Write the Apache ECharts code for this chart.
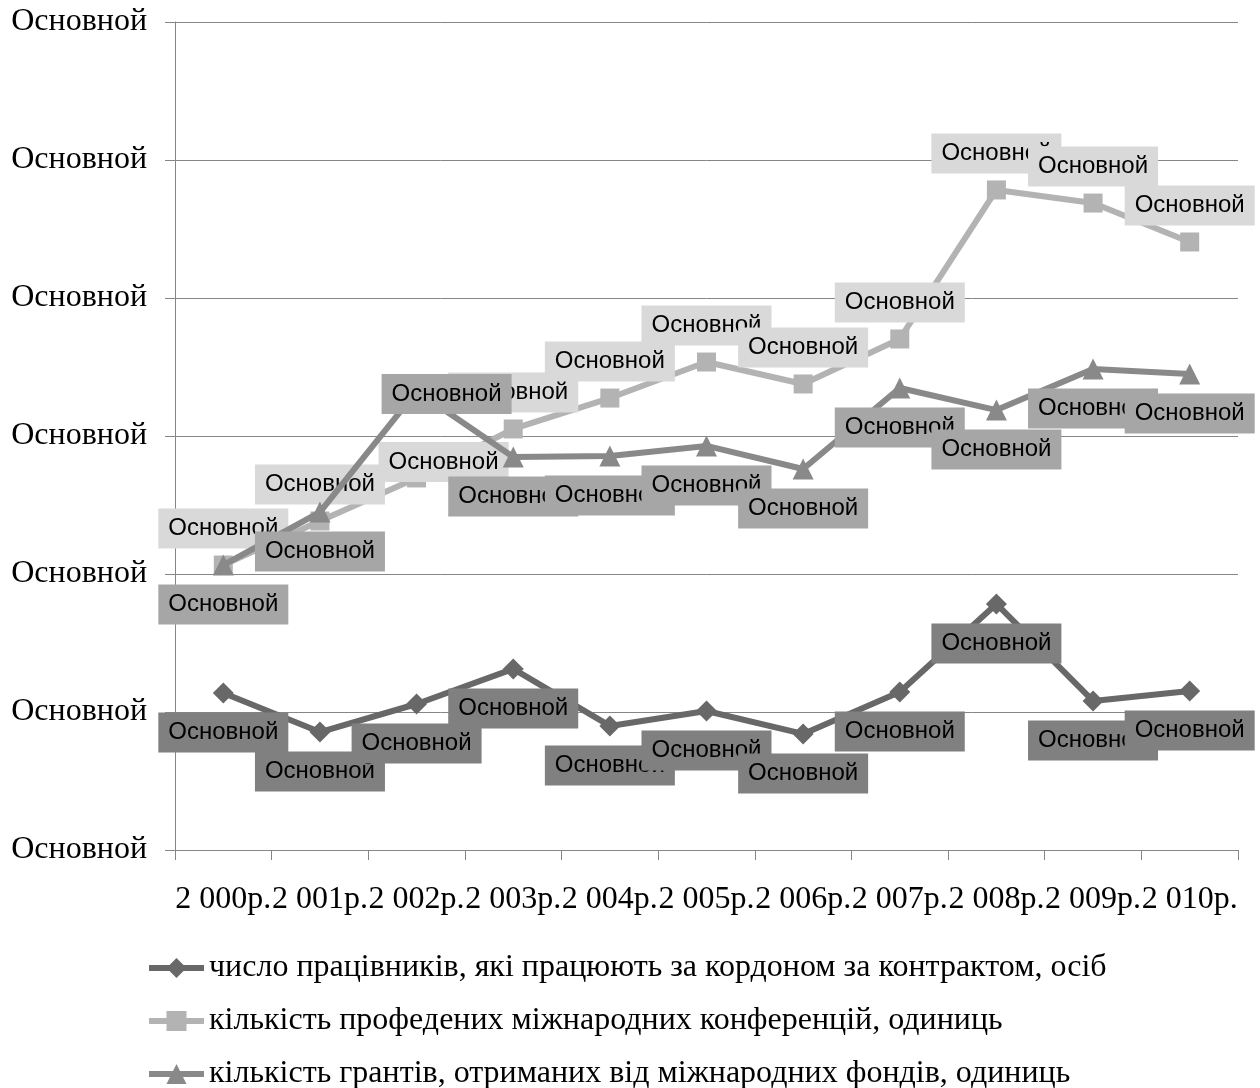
<!DOCTYPE html>
<html>
<head>
<meta charset="utf-8">
<script src="https://cdn.jsdelivr.net/npm/echarts@6/dist/echarts.min.js"></script>
<style>
html,body{margin:0;padding:0;background:#fff;}
#chart{width:1260px;height:1088px;}
</style>
</head>
<body>
<div id="chart"></div>
<script>
const categories = ['2 000р.', '2 001р.', '2 002р.', '2 003р.', '2 004р.', '2 005р.', '2 006р.', '2 007р.', '2 008р.', '2 009р.', '2 010р.'];
const seriesNames = [
  'число працівників, які працюють за кордоном за контрактом, осіб',
  'кількість профедених міжнародних конференцій, одиниць',
  'кількість грантів, отриманих від міжнародних фондів, одиниць'
];
const workers = [11.38, 8.55, 10.58, 13.12, 8.99, 10.07, 8.41, 11.45, 17.83, 10.80, 11.52];
const conferences = [20.65, 23.84, 26.96, 30.51, 32.75, 35.36, 33.77, 37.03, 47.83, 46.88, 44.06];
const grants = [20.65, 24.49, 33.26, 28.48, 28.55, 29.28, 27.61, 33.48, 31.88, 34.86, 34.49];
const yTickLabels = ['Основной', 'Основной', 'Основной', 'Основной', 'Основной', 'Основной', 'Основной'];
const dataLabelText = 'Основной';

const axisGray = '#868686';
const serif = '"Liberation Serif", "Times New Roman", serif';
const sans = '"Liberation Sans", Arial, sans-serif';

function makeData(values, overrides) {
  return values.map(function (v, i) {
    if (overrides && overrides[i]) {
      return { value: v, label: overrides[i] };
    }
    return v;
  });
}

function labelStyle(bg, position, distance) {
  return {
    show: true,
    position: position,
    distance: distance,
    formatter: function () { return dataLabelText; },
    backgroundColor: bg,
    color: '#000',
    fontFamily: sans,
    fontSize: 24,
    lineHeight: 24,
    width: 106,
    align: 'center',
    padding: [8, 12]
  };
}

const chart = echarts.init(document.getElementById('chart'), null, { renderer: 'canvas' });
chart.setOption({
  animation: false,
  backgroundColor: '#fff',
  grid: { left: 175, right: 22, top: 22, bottom: 238, containLabel: false },
  xAxis: {
    type: 'category',
    data: categories,
    boundaryGap: true,
    axisLine: { show: true, lineStyle: { color: axisGray, width: 1 } },
    axisTick: { show: true, length: 10, lineStyle: { color: axisGray }, alignWithLabel: false },
    axisLabel: { interval: 0, color: '#000', fontFamily: serif, fontSize: 32, margin: 34 },
    splitLine: { show: false }
  },
  yAxis: {
    type: 'value',
    min: 0,
    max: 60,
    interval: 10,
    axisLine: { show: true, lineStyle: { color: axisGray, width: 1 } },
    axisTick: { show: true, length: 10, lineStyle: { color: axisGray } },
    axisLabel: {
      color: '#000', fontFamily: serif, fontSize: 32, margin: 28, padding: [6, 0, 0, 0],
      formatter: function (v, idx) { return yTickLabels[Math.round(v / 10)]; }
    },
    splitLine: { show: true, lineStyle: { color: axisGray, width: 1 } }
  },
  legend: {
    orient: 'vertical',
    left: 146,
    top: 952,
    height: 220,
    padding: 0,
    itemWidth: 55,
    itemHeight: 25,
    itemGap: 21,
    lineStyle: { width: 6 },
    textStyle: { color: '#000', fontFamily: serif, fontSize: 32 },
    data: seriesNames
  },
  series: [
    {
      name: seriesNames[0],
      type: 'line',
      data: makeData(workers),
      symbol: 'diamond',
      symbolSize: 21,
      lineStyle: { color: '#686868', width: 6 },
      itemStyle: { color: '#686868' },
      label: labelStyle('#808080', 'bottom', 9),
      z: 2
    },
    {
      name: seriesNames[1],
      type: 'line',
      data: makeData(conferences, { 2: { position: 'inside', offset: [27, -16] } }),
      symbol: 'rect',
      symbolSize: 19,
      lineStyle: { color: '#b3b3b3', width: 6 },
      itemStyle: { color: '#b3b3b3' },
      label: labelStyle('#d9d9d9', 'top', 7),
      z: 3
    },
    {
      name: seriesNames[2],
      type: 'line',
      data: makeData(grants, { 2: { position: 'inside', offset: [30, 3] } }),
      symbol: 'triangle',
      symbolSize: 21,
      lineStyle: { color: '#898989', width: 6 },
      itemStyle: { color: '#898989' },
      label: labelStyle('#a6a6a6', 'bottom', 9),
      z: 4
    }
  ]
});
</script>
</body>
</html>
